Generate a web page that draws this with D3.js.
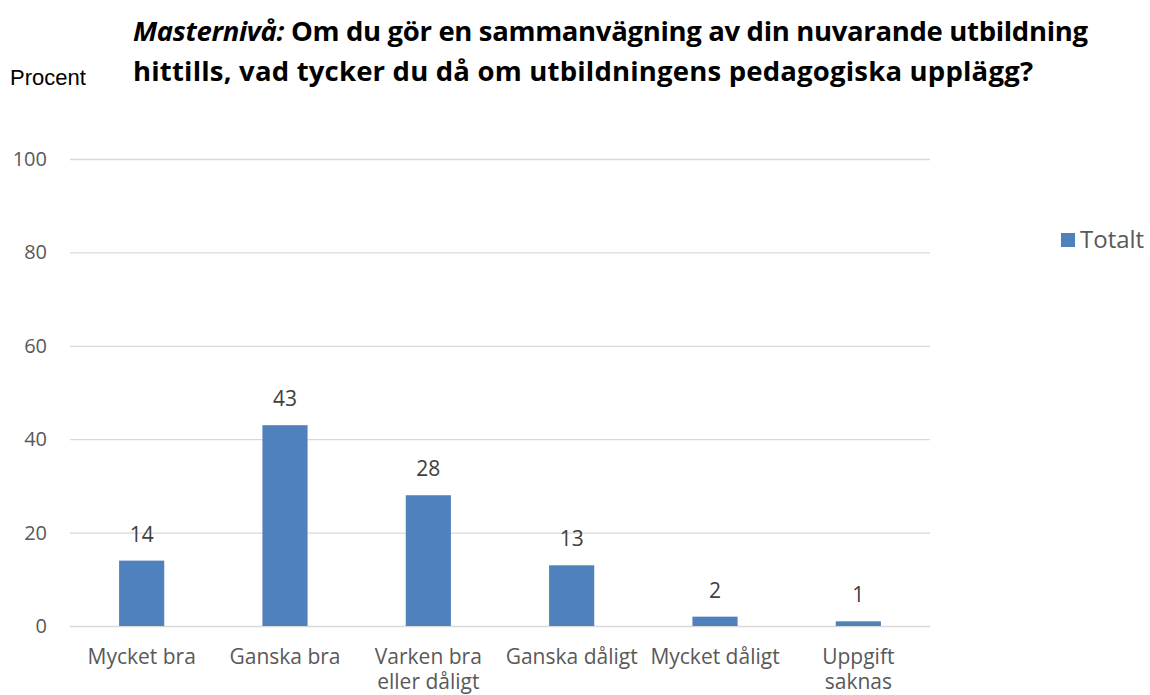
<!DOCTYPE html>
<html>
<head>
<meta charset="utf-8">
<script src="https://cdn.jsdelivr.net/npm/d3@7"></script>
<style>
  body { margin: 0; background: #fff; }
</style>
</head>
<body>
<div id="chart"></div>
<script>
// data
const categories = ["Mycket bra", "Ganska bra", "Varken bra eller dåligt", "Ganska dåligt", "Mycket dåligt", "Uppgift saknas"];
const categoryLines = [["Mycket bra"], ["Ganska bra"], ["Varken bra", "eller dåligt"], ["Ganska dåligt"], ["Mycket dåligt"], ["Uppgift", "saknas"]];
const totalt = [14, 43, 28, 13, 2, 1];
const yTicks = [0, 20, 40, 60, 80, 100];
const seriesName = "Totalt";

const svgWidth = 1150;
const svgHeight = 695;
const margin = { top: 159, right: 220, bottom: 69, left: 70 };
const width = svgWidth - margin.left - margin.right;
const height = svgHeight - margin.top - margin.bottom;

const font = "'Open Sans', sans-serif";

const svg = d3.select("#chart")
  .append("svg")
  .attr("width", svgWidth)
  .attr("height", svgHeight);

const chartGroup = svg.append("g")
  .attr("transform", `translate(${margin.left}, ${margin.top})`);

const x = d3.scaleBand()
  .domain(categories)
  .range([0, width])
  .paddingInner(0.685)
  .paddingOuter(0.3425);

const y = d3.scaleLinear()
  .domain([0, 100])
  .range([height, 0]);

// gridlines
chartGroup.append("g")
  .call(d3.axisLeft(y).tickValues(yTicks).tickSize(-width).tickFormat(""))
  .call(g => g.select(".domain").remove())
  .selectAll("line")
  .attr("stroke", "#d9d9d9")
  .attr("stroke-width", 1.3);

// y tick labels
chartGroup.append("g")
  .call(d3.axisLeft(y).tickValues(yTicks).tickSize(0).tickPadding(23))
  .call(g => g.select(".domain").remove())
  .selectAll("text")
  .style("font-family", font)
  .style("font-size", "20px")
  .attr("fill", "#595959");

// bars
chartGroup.selectAll("rect.bar")
  .data(totalt)
  .enter()
  .append("rect")
  .attr("class", "bar")
  .attr("x", (d, i) => x(categories[i]))
  .attr("y", d => y(d))
  .attr("width", x.bandwidth())
  .attr("height", d => height - y(d))
  .attr("fill", "#4f81bd");

// value labels
chartGroup.selectAll("text.val")
  .data(totalt)
  .enter()
  .append("text")
  .attr("class", "val")
  .attr("x", (d, i) => x(categories[i]) + x.bandwidth() / 2)
  .attr("y", d => y(d) - 19)
  .attr("text-anchor", "middle")
  .style("font-family", font)
  .style("font-size", "21px")
  .attr("fill", "#404040")
  .text(d => d);

// x labels
const xl = chartGroup.selectAll("text.xl")
  .data(categoryLines)
  .enter()
  .append("text")
  .attr("class", "xl")
  .attr("text-anchor", "middle")
  .style("font-family", font)
  .style("font-size", "21px")
  .attr("fill", "#595959")
  .attr("transform", (d, i) => `translate(${x(categories[i]) + x.bandwidth() / 2}, ${height + 38})`);
xl.selectAll("tspan")
  .data(d => d)
  .enter()
  .append("tspan")
  .attr("x", 0)
  .attr("dy", (d, i) => i === 0 ? 0 : 25)
  .text(d => d);

// y axis title
svg.append("text")
  .attr("x", 10)
  .attr("y", 85)
  .style("font-family", "'Liberation Sans', Arial, sans-serif")
  .style("font-size", "22px")
  .attr("fill", "#000")
  .text("Procent");

// chart title
const title = svg.append("text")
  .style("font-family", font)
  .style("font-size", "27.5px")
  .style("font-weight", "bold")
  .attr("fill", "#000");
const t1 = title.append("tspan").attr("x", 133).attr("y", 41)
  .attr("textLength", 955).attr("lengthAdjust", "spacing");
t1.append("tspan").style("font-style", "italic").text("Masternivå:");
t1.append("tspan").text(" Om du gör en sammanvägning av din nuvarande utbildning");
title.append("tspan").attr("x", 133).attr("y", 81)
  .attr("textLength", 900).attr("lengthAdjust", "spacing")
  .text("hittills, vad tycker du då om utbildningens pedagogiska upplägg?");

// legend
const legend = svg.append("g").attr("transform", "translate(1061, 233)");
legend.append("rect")
  .attr("width", 14)
  .attr("height", 14)
  .attr("fill", "#4f81bd");
legend.append("text")
  .attr("x", 19)
  .attr("y", 15)
  .style("font-family", font)
  .style("font-size", "24px")
  .attr("fill", "#595959")
  .text(seriesName);
</script>
</body>
</html>
